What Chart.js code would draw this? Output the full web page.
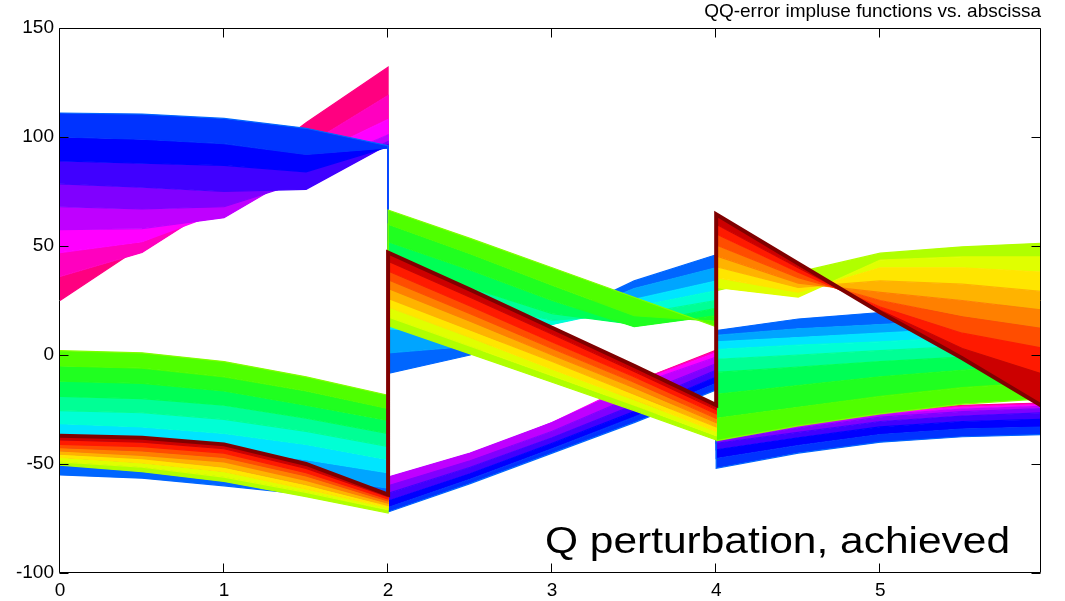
<!DOCTYPE html>
<html>
<head>
<meta charset="utf-8">
<script src="https://cdn.jsdelivr.net/npm/chart.js@4.4.1/dist/chart.umd.min.js"></script>
<style>
html, body { margin: 0; padding: 0; background: #fff; }
#wrap { width: 1065px; height: 601px; }
</style>
</head>
<body>
<div id="wrap"><canvas id="qq" width="1065" height="601"></canvas></div>
<script>
// abscissa samples of the three segments (impulse jumps at 2 and 4)
const xSegA = [0, 0.5, 1, 1.5, 2];
const xSegB = [2, 2.5, 3, 3.5, 4];
const xSegC = [4, 4.5, 5, 5.5, 6];

const xTicks = [0, 1, 2, 3, 4, 5];
const yTicks = [-100, -50, 0, 50, 100, 150];

// red family: dark red -> yellow-green, one row per curve
const redA = [
    [-37, -38, -41, -50, -64],
    [-39, -40, -43, -52, -65],
    [-41, -42, -45, -54, -66],
    [-42.5, -44, -47, -55.5, -67],
    [-44, -46, -49, -57.5, -68],
    [-45.5, -47.5, -51.5, -59.5, -69],
    [-47, -49.5, -53.5, -61.5, -70],
    [-49, -51.5, -56, -63, -71],
    [-50.5, -53.5, -58, -65, -72.5]
];
const redB = [
    [47, 30, 12.5, -5, -23],
    [43, 26.5, 9.5, -7.5, -25],
    [38.5, 22.5, 6, -10, -27],
    [34.5, 19, 3, -12.5, -29],
    [30.5, 15.5, 0, -15, -31],
    [26, 11.5, -3, -18, -33],
    [22, 8, -6.5, -20.5, -35],
    [17.5, 4, -9.5, -23, -37],
    [13.5, 0.5, -12.5, -25.5, -39]
];
const redC = [
    [64.5, 42, 19.5, -1.5, -24],
    [60, 40, 20.5, 3, -9],
    [55.5, 38, 22, 10, 3],
    [50.5, 35.5, 25, 17.5, 12],
    [45.5, 33, 28.7, 25, 20.5],
    [40.5, 31, 34, 32.5, 29],
    [35.5, 28.8, 40, 40, 38],
    [31, 26.6, 43.5, 45, 45],
    [29.5, 38, 46.7, 49.6, 51.3]
];

// green family: yellow-green -> light blue
const greenA = [
    [2, 1, -3, -10, -18.5],
    [-5, -6, -10, -16.5, -24.5],
    [-12, -13, -16.5, -23, -30],
    [-19, -20, -23, -29, -36],
    [-25.5, -26.5, -29.5, -35, -42],
    [-31.5, -33, -36, -41, -48],
    [-38, -39.5, -43, -48, -54],
    [-46, -48, -51.5, -56, -61],
    [-55, -56.5, -60, -64, -68]
];
const greenB = [
    [66.5, 53.5, 40, 26.5, 13],
    [60, 46.5, 32, 18, 15.5],
    [52, 39, 25, 13, 18],
    [43, 31, 19, 14, 21.5],
    [34, 24, 16, 18.5, 25],
    [25, 17, 14, 22, 29.5],
    [12, 10, 14, 25.5, 34],
    [1, 4, 15, 30.5, 40],
    [-8.5, 0, 16, 34, 46]
];
const greenC = [
    [-39.3, -32.5, -27, -22.5, -20],
    [-29, -24, -19, -15, -12.5],
    [-18, -14, -10, -7, -5],
    [-8, -5.5, -3, -1, 1],
    [-2, 0, 2, 4, 5.5],
    [2.5, 4.5, 6, 8, 9.5],
    [6, 8, 10, 12, 13.5],
    [9, 12, 14, 16, 18],
    [11.2, 16.5, 19.5, 22, 23.5]
];

// blue family: light blue -> pink
const blueA = [
    [111, 110.5, 108.5, 104, 96],
    [100, 99, 97, 92, 95],
    [89, 88, 87, 84, 95.5],
    [78.5, 77, 75, 76, 96.5],
    [68, 67, 68, 80, 98],
    [57.5, 58, 63, 85, 101],
    [47, 52, 66, 90, 108],
    [36, 47, 71, 96, 119],
    [25, 50, 78, 106.5, 132]
];
const blueB = [
    [-72, -59, -45, -31, -16],
    [-70, -57, -43, -28.5, -13],
    [-67, -54.5, -40.5, -26, -10],
    [-63.5, -51.5, -38, -23, -7],
    [-60, -48.5, -35, -19, -4],
    [-56, -45, -31, -14, -1],
    [-58, -46, -31, -13, 1],
    [-60, -48, -32, -12.5, 1.8],
    [-62, -50, -33, -12.5, 2.2]
];
const blueC = [
    [-52, -45, -40, -37.5, -36.5],
    [-47.5, -41.5, -36.5, -34, -33],
    [-43.5, -38, -33, -30.5, -29.5],
    [-40.5, -35.5, -30.5, -28, -26.5],
    [-39.5, -33.5, -28.5, -26, -24.5],
    [-39.3, -32.3, -27.3, -24.8, -23.5],
    [-39, -31.5, -26.5, -24, -22.8],
    [-38.5, -31, -26, -23.5, -22.3],
    [-38, -30.6, -25.6, -23.1, -22]
];

const redColors = ['#800000', '#cc0000', '#ff1a00', '#ff4d00', '#ff8000', '#ffb300', '#ffe600', '#e0ff00', '#b0ff00'];
const greenColors = ['#80ff00', '#50ff00', '#20ff20', '#00ff55', '#00ff95', '#00ffd5', '#00e5ff', '#00a5ff', '#0066ff'];
const blueColors = ['#0066ff', '#0033ff', '#0000ff', '#4000ff', '#8000ff', '#bf00ff', '#ff00ff', '#ff00bf', '#ff0080'];

const families = [
    { colors: redColors, segs: [redA, redB, redC] },
    { colors: greenColors, segs: [greenA, greenB, greenC] },
    { colors: blueColors, segs: [blueA, blueB, blueC] }
];

// first dataset is painted last, so dark red ends up on top like the original
const datasets = [];
families.forEach((fam, f) => {
    fam.colors.forEach((col, k) => {
        const pts = [];
        [xSegA, xSegB, xSegC].forEach((xs, s) => {
            xs.forEach((x, i) => pts.push({ x: x, y: fam.segs[s][k][i] }));
        });
        datasets.push({
            data: pts,
            borderColor: col,
            backgroundColor: col,
            borderWidth: (f === 0 && k === 0) ? 4 : 1.2,
            fill: k === 0 ? false : '-1',
            pointRadius: 0
        });
    });
});

const FONT = '"Liberation Sans", Arial, sans-serif';

const matlabAxes = {
    id: 'matlabAxes',
    afterDraw(chart) {
        const { ctx, scales: { x, y } } = chart;
        const L = 59.5, R = 1040.5, T = 28.5, B = 572.5, tick = 9;
        ctx.save();
        ctx.strokeStyle = '#000';
        ctx.lineWidth = 1;
        ctx.beginPath();
        ctx.rect(L, T, R - L, B - T);
        xTicks.forEach(v => {
            const px = Math.round(x.getPixelForValue(v)) - 0.5;
            ctx.moveTo(px, B); ctx.lineTo(px, B - tick);
            ctx.moveTo(px, T); ctx.lineTo(px, T + tick);
        });
        yTicks.forEach(v => {
            const py = Math.round(y.getPixelForValue(v)) + 0.5;
            ctx.moveTo(L, py); ctx.lineTo(L + tick, py);
            ctx.moveTo(R, py); ctx.lineTo(R - tick, py);
        });
        ctx.stroke();

        ctx.fillStyle = '#000';
        ctx.font = '19px ' + FONT;
        ctx.textAlign = 'right';
        ctx.textBaseline = 'middle';
        yTicks.forEach(v => ctx.fillText(String(v), 54, y.getPixelForValue(v)));
        ctx.textAlign = 'center';
        ctx.textBaseline = 'alphabetic';
        xTicks.forEach(v => ctx.fillText(String(v), x.getPixelForValue(v), 596));

        ctx.textAlign = 'right';
        ctx.fillText('QQ-error impluse functions vs. abscissa', 1041, 17);

        // big caption, stretched a bit wider like the original
        const cap = 'Q perturbation, achieved';
        ctx.font = '37px ' + FONT;
        ctx.textAlign = 'left';
        const w = ctx.measureText(cap).width;
        ctx.translate(545, 553);
        ctx.scale(465 / w, 1);
        ctx.fillText(cap, 0, 0);
        ctx.restore();
    }
};

new Chart(document.getElementById('qq'), {
    type: 'line',
    data: { datasets: datasets },
    options: {
        responsive: false,
        animation: false,
        events: [],
        layout: { padding: { left: 60, right: 24, top: 28, bottom: 28 } },
        datasets: { line: { clip: 0 } },
        elements: { line: { tension: 0 } },
        plugins: { legend: { display: false }, tooltip: { enabled: false }, title: { display: false } },
        scales: {
            x: { type: 'linear', min: 0, max: 5.98, display: false },
            y: { type: 'linear', min: -100, max: 150, display: false }
        }
    },
    plugins: [matlabAxes]
});
</script>
</body>
</html>
